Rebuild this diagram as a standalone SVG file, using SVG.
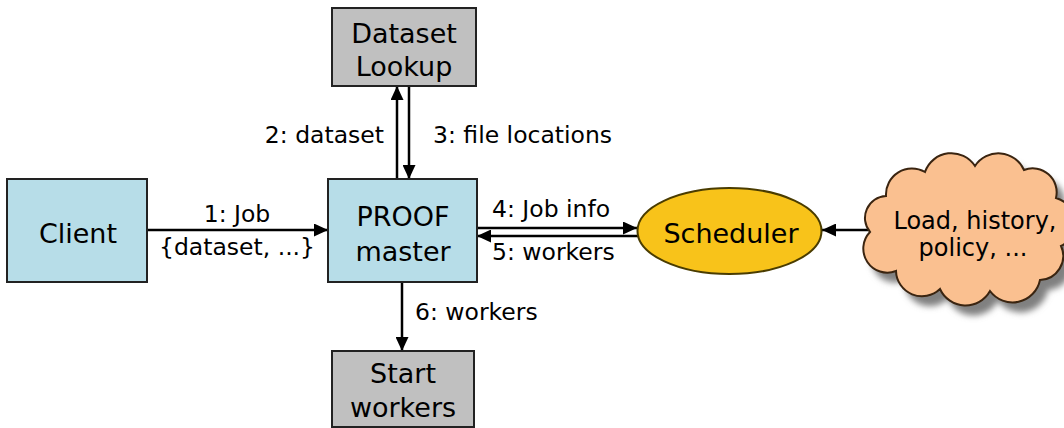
<svg xmlns="http://www.w3.org/2000/svg" width="1064" height="428" viewBox="0 0 1064 428">
<style>
.box{stroke:#222;stroke-width:2}
.blue{fill:#b7dde8}
.gray{fill:#c0c0c0}
.nt{font-family:"DejaVu Sans",Verdana,sans-serif;font-size:27px;fill:#000;text-anchor:middle}
.lbl{font-family:"DejaVu Sans",Verdana,sans-serif;font-size:23.5px;fill:#000}
.ct{font-family:"DejaVu Sans",Verdana,sans-serif;font-size:24px;fill:#000;text-anchor:middle}
.edge{stroke:#000;stroke-width:2.5;fill:none;marker-end:url(#ah)}
</style>
<defs>
<marker id="ah" markerUnits="userSpaceOnUse" markerWidth="14" markerHeight="13" refX="14" refY="6.5" orient="auto">
<path d="M0,0 L14,6.5 L0,13 z" fill="#000"/>
</marker>
<filter id="blur" x="-10%" y="-10%" width="130%" height="130%">
<feGaussianBlur stdDeviation="3"/>
</filter>
<path id="cloudShape" d="M870,232 A22,22 0 0 1 886,196 A26,26 0 0 1 925,172 A28,28 0 0 1 975,166 A28,28 0 0 1 1024,170 A24,24 0 0 1 1056,198 A26,26 0 0 1 1061,246 A24,24 0 0 1 1040,280 A28,28 0 0 1 990,291 A28,28 0 0 1 940,289 A26,26 0 0 1 896,271 A24,24 0 0 1 870,232 Z"/>
</defs>
<rect width="1064" height="428" fill="#fff"/>

<g id="connectors">
<line class="edge" x1="147" y1="230" x2="328" y2="230"/>
<line class="edge" x1="397" y1="179" x2="397" y2="86"/>
<line class="edge" x1="409" y1="86" x2="409" y2="179"/>
<line class="edge" x1="477" y1="228" x2="637" y2="228"/>
<line class="edge" x1="638" y1="236" x2="477" y2="236"/>
<line class="edge" x1="402" y1="282" x2="402" y2="351"/>
<line class="edge" x1="868" y1="230" x2="822" y2="230"/>
<text class="lbl" x="237" y="222" text-anchor="middle">1: Job</text>
<text class="lbl" x="237" y="255" text-anchor="middle">{dataset, ...}</text>
<text class="lbl" x="384" y="143" text-anchor="end">2: dataset</text>
<text class="lbl" x="433" y="143">3: file locations</text>
<text class="lbl" x="492" y="217">4: Job info</text>
<text class="lbl" x="492" y="260">5: workers</text>
<text class="lbl" x="415" y="320">6: workers</text>
</g>

<g id="dataset-lookup">
<rect class="box gray" x="332" y="8" width="144" height="78"/>
<text class="nt" x="404" y="43">Dataset</text>
<text class="nt" x="404" y="76">Lookup</text>
</g>

<g id="client">
<rect class="box blue" x="7" y="179" width="140" height="103"/>
<text class="nt" x="78" y="243">Client</text>
</g>

<g id="proof-master">
<rect class="box blue" x="328" y="179" width="149" height="103"/>
<text class="nt" x="403" y="226">PROOF</text>
<text class="nt" x="403" y="261">master</text>
</g>

<g id="start-workers">
<rect class="box gray" x="332" y="351" width="142" height="76"/>
<text class="nt" x="403" y="383">Start</text>
<text class="nt" x="403" y="417">workers</text>
</g>

<g id="scheduler">
<ellipse cx="729.5" cy="231" rx="92" ry="43" fill="#f8c31a" stroke="#4a3c00" stroke-width="2"/>
<text class="nt" x="731" y="243">Scheduler</text>
</g>

<g id="cloud">
<use href="#cloudShape" fill="#808080" transform="translate(8,10)" filter="url(#blur)"/>
<use href="#cloudShape" fill="#fac090" stroke="#3a2410" stroke-width="2"/>
<text class="ct" x="975" y="229">Load, history,</text>
<text class="ct" x="973" y="256">policy, ...</text>
</g>
</svg>
